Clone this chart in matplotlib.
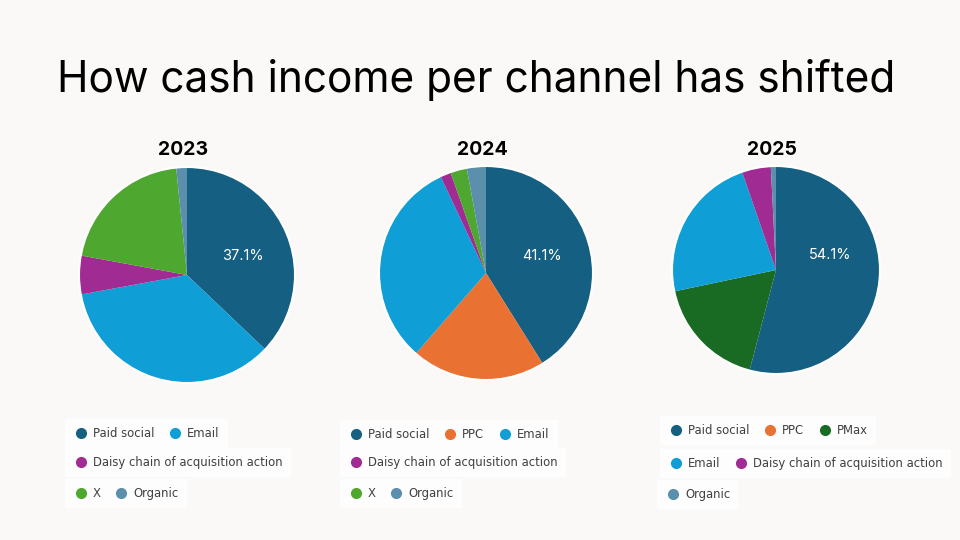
import matplotlib.pyplot as plt
from matplotlib.lines import Line2D

# channel order as in the legend
channels = ["Paid social", "PPC", "PMax", "Email", "Daisy chain of acquisition action", "X", "Organic"]
colors = {
    "Paid social": "#156082",
    "PPC": "#E97132",
    "PMax": "#196B24",
    "Email": "#0F9ED5",
    "Daisy chain of acquisition action": "#A02B93",
    "X": "#4EA72E",
    "Organic": "#5B8FAB",
}

years = ["2023", "2024", "2025"]

# share of cash income (%), slice order clockwise from 12 o'clock
labels_2023 = ["Paid social", "Email", "Daisy chain of acquisition action", "X", "Organic"]
share_2023 = [37.1, 35.0, 5.8, 20.5, 1.6]

labels_2024 = ["Paid social", "PPC", "Email", "Daisy chain of acquisition action", "X", "Organic"]
share_2024 = [41.1, 20.3, 31.6, 1.6, 2.5, 2.9]

labels_2025 = ["Paid social", "PPC", "PMax", "Email", "Daisy chain of acquisition action", "Organic"]
share_2025 = [54.1, 0.0, 17.6, 23.0, 4.5, 0.8]

# legend rows per chart
legend_rows_2023 = [["Paid social", "Email"], ["Daisy chain of acquisition action"], ["X", "Organic"]]
legend_rows_2024 = [["Paid social", "PPC", "Email"], ["Daisy chain of acquisition action"], ["X", "Organic"]]
legend_rows_2025 = [["Paid social", "PPC", "PMax"], ["Email", "Daisy chain of acquisition action"], ["Organic"]]

BG = "#FAF9F7"
W, H = 960, 540

fig = plt.figure(figsize=(9.6, 5.4), dpi=100, facecolor=BG)


def fx(x):
    return x / W


def fy(y):
    return 1 - y / H


fig.text(fx(476), fy(80), "How cash income per channel has shifted", ha="center", va="center",
         fontsize=30.5, family=["Inter", "DejaVu Sans"], color="black")

charts = [
    (labels_2023, share_2023, legend_rows_2023, (187, 275, 108), (0.52, 0.18),
     [(65, 419), (65, 448), (65, 479)]),
    (labels_2024, share_2024, legend_rows_2024, (486, 273, 107), (0.52, 0.16),
     [(340, 420), (340, 448), (340, 479)]),
    (labels_2025, share_2025, legend_rows_2025, (776, 270, 104), (0.52, 0.14),
     [(660, 416), (660, 449), (657, 480)]),
]

for year, (labels, share, rows, (cx, cy, r), lab_pos, leg_pos) in zip(years, charts):
    pad = 4
    ax = fig.add_axes([fx(cx - r - pad), fy(cy + r + pad), (2 * r + 2 * pad) / W, (2 * r + 2 * pad) / H])
    ax.set_facecolor(BG)
    ax.pie(share, colors=[colors[l] for l in labels], startangle=90, counterclock=False,
           radius=1, wedgeprops=dict(edgecolor="none", linewidth=0))
    # thin white rim around the pie
    ax.add_patch(plt.Circle((0, 0), 1.0, fill=False, edgecolor="white", linewidth=1.5))
    lim = (r + pad) / r
    ax.set_xlim(-lim, lim)
    ax.set_ylim(-lim, lim)
    ax.set_aspect("equal")
    ax.axis("off")

    ax.text(lab_pos[0], lab_pos[1], f"{share[0]:.1f}%", ha="center", va="center", zorder=10,
            color="white", fontsize=10.5, family=["Inter", "DejaVu Sans"], fontweight="normal")

    fig.text(fx(cx - 4), fy(150), year, ha="center", va="center", fontsize=14,
             fontweight="bold", family=["Inter", "DejaVu Sans"], color="black")

    for row, (lx, ly) in zip(rows, leg_pos):
        handles = [Line2D([], [], marker="o", linestyle="none", markersize=7,
                          markerfacecolor=colors[c], markeredgecolor=colors[c]) for c in row]
        leg = fig.legend(handles, row, loc="upper left", bbox_to_anchor=(fx(lx), fy(ly)),
                         ncol=len(row), frameon=True, fancybox=False, borderaxespad=0,
                         borderpad=0.7, handletextpad=0.4, columnspacing=1.1, handlelength=1.3,
                         prop=dict(family="DejaVu Sans", size=8.4))
        leg.get_frame().set_facecolor("white")
        leg.get_frame().set_edgecolor("none")
        for t in leg.get_texts():
            t.set_color("#404040")

fig.savefig("out.png", dpi=100, facecolor=BG)
